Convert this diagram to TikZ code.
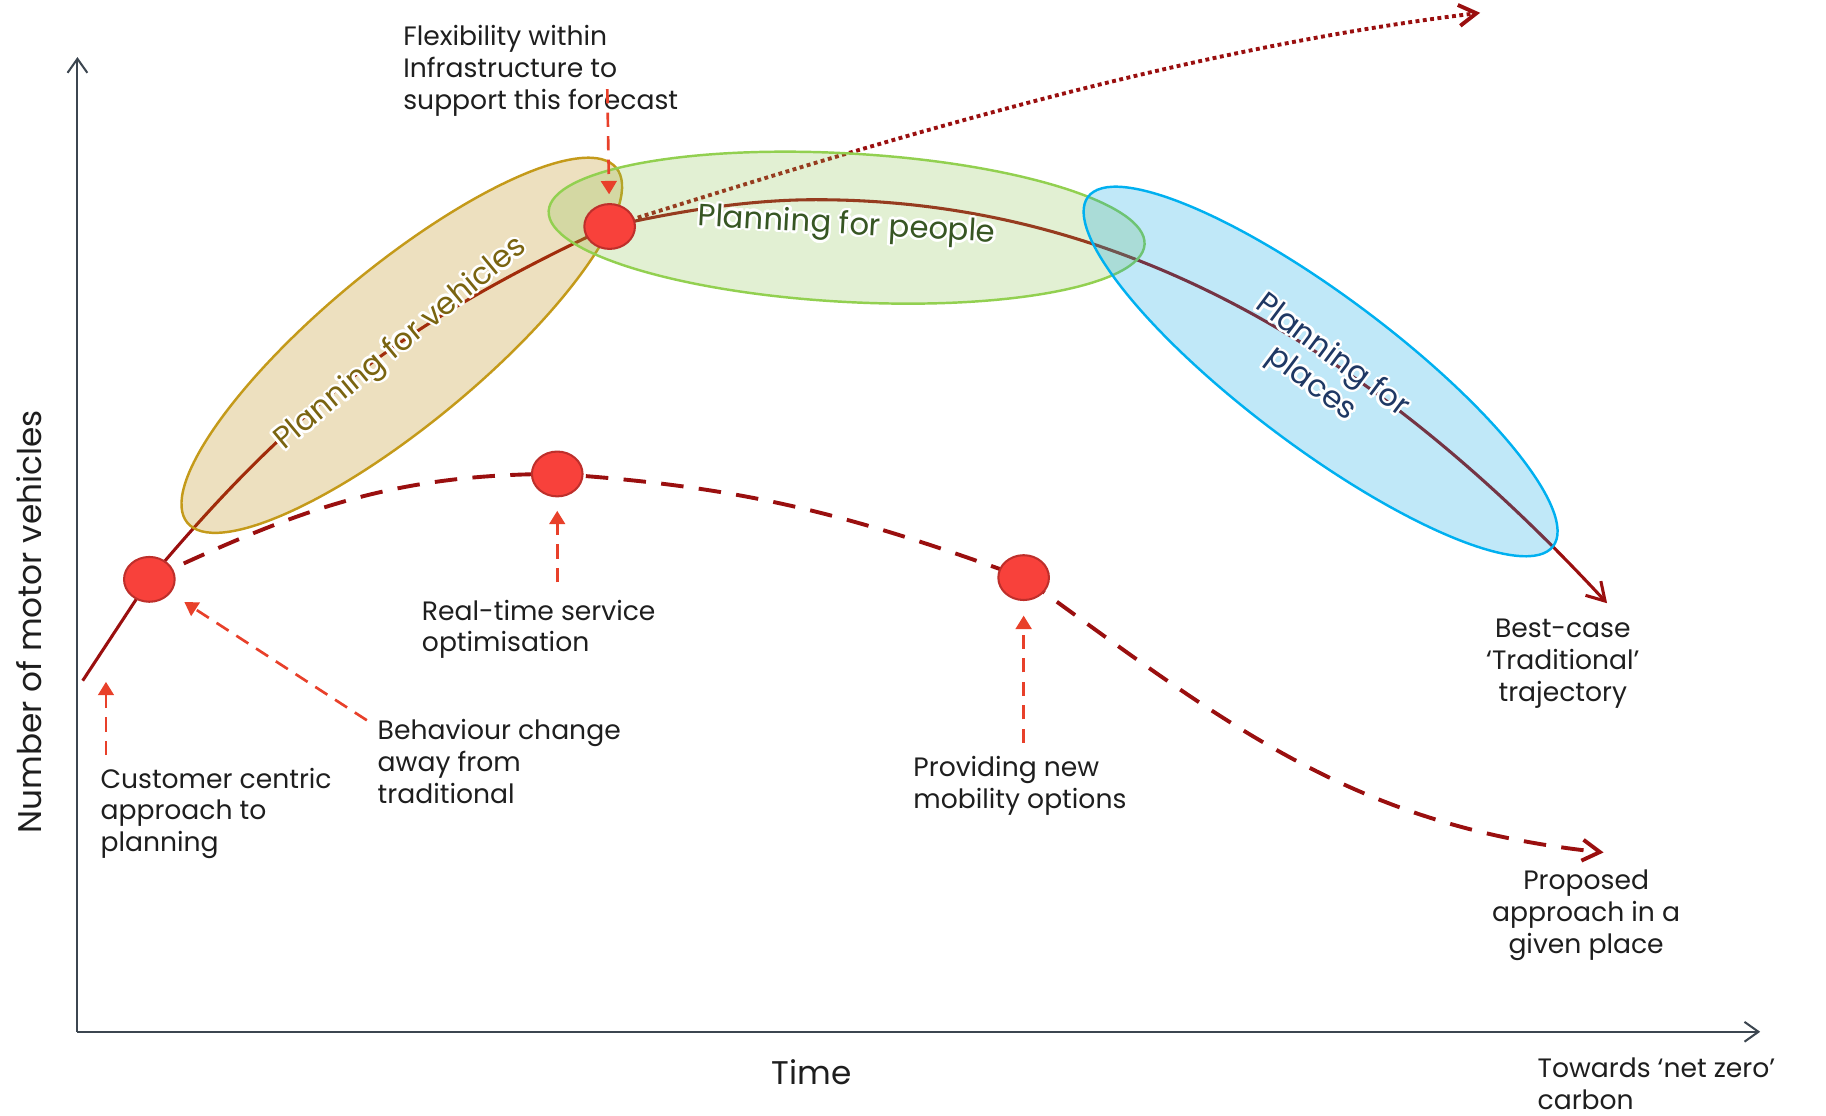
\documentclass[tikz,border=0pt]{standalone}
\usepackage{fontspec}
\setmainfont{Poppins}
\usepackage{contour}
\usetikzlibrary{arrows.meta,shapes.geometric}
\definecolor{cTrend}{HTML}{9A0F0F}
\definecolor{cCall}{HTML}{E8402A}
\definecolor{cDot}{HTML}{F8413B}
\definecolor{cDotRim}{HTML}{BE2F2B}
\definecolor{cAxis}{HTML}{3C4650}
\definecolor{cText}{HTML}{1E1E1E}
\definecolor{cVeh}{HTML}{B78300}
\definecolor{cVehRim}{HTML}{C49A1A}
\definecolor{cVehTxt}{HTML}{7A6410}
\definecolor{cPpl}{HTML}{8BC34F}
\definecolor{cPplRim}{HTML}{92D050}
\definecolor{cPplTxt}{HTML}{375623}
\definecolor{cPlc}{HTML}{03A3E3}
\definecolor{cPlcRim}{HTML}{00B0F0}
\definecolor{cPlcTxt}{HTML}{1F3864}
\contourlength{1.2pt}
\newcommand{\glow}[1]{\contour{white}{#1}}

\begin{document}
\begin{tikzpicture}[
  font=\fontsize{13}{15.5}\selectfont,
  axis/.style={draw=cAxis,line width=1pt,-{Straight Barb[length=2.4mm,width=3.4mm]}},
  trend/.style={cTrend,line width=1.5pt,-{Straight Barb[length=3mm,width=3.6mm]}},
  plan/.style={trend,line width=1.9pt,dash pattern=on 11pt off 7.5pt},
  hope/.style={trend,line width=1.9pt,dash pattern=on 1.9pt off 1.7pt},
  call/.style={cCall,line width=1.3pt,dash pattern=on 7pt off 4.5pt,
               -{Triangle[length=2.3mm,width=2.7mm]}},
  dot/.style={ellipse,draw=cDotRim,fill=cDot,line width=1pt,
              minimum width=8.7mm,minimum height=7.7mm,inner sep=0pt},
  zone/.style={ellipse,line width=1.2pt,fill opacity=0.25,text opacity=1,inner sep=0pt,
               font=\fontsize{15}{17}\selectfont,align=center},
  note/.style={align=left,anchor=west,inner sep=0pt,text=cText},
  axlabel/.style={font=\fontsize{16}{19}\selectfont,text=cText}
]
\useasboundingbox (0,0) rectangle (31.36,19.16);

% axes
\coordinate (o) at (1.33,1.44);
\coordinate (ytop) at (1.33,18.18);
\coordinate (xend) at (30.23,1.44);
\draw[axis] (o) -- (ytop);
\draw[axis] (o) -- (xend);
\node[axlabel] (time) at (13.94,0.74) {Time};
\node[axlabel,rotate=90] (count) at (0.5,8.48) {Number of motor vehicles};

% points on the trajectories
\coordinate (s0) at (1.42,7.47);
\coordinate (p1) at (2.565,9.21);
\coordinate (p2) at (10.47,15.27);
\coordinate (p3) at (9.57,11.02);
\coordinate (p4) at (17.58,9.24);
\coordinate (top) at (14.01,15.73);

% traditional, forecast and proposed curves
\draw[trend] (s0) -- (p1) .. controls (5.07,12.2) and (6.94,13.62) .. (p2)
  .. controls (11.6,15.52) and (12.8,15.73) .. (top)
  .. controls (19.5,15.73) and (23.8,12.9) .. (27.6,8.8);
\draw[hope] (p2) .. controls (15.47,16.85) and (20.42,18.33) .. (25.42,18.94);
\draw[plan] (p1) .. controls (5.13,10.41) and (6.74,11.02) .. (p3)
  .. controls (12.77,10.8) and (14.56,10.34) .. (p4)
  .. controls (21.07,6.71) and (23.25,4.97) .. (27.54,4.52);

% planning zones
\node[zone,draw=cVehRim,fill=cVeh,text=cVehTxt,minimum width=9.56cm,minimum height=2.71cm,
      rotate=39.6] (veh) at (6.9,13.23) {\glow{Planning for vehicles}};
\node[zone,draw=cPplRim,fill=cPpl,text=cPplTxt,minimum width=10.25cm,minimum height=2.55cm,
      rotate=-3.2] (ppl) at (14.54,15.25) {\glow{Planning for people}};
\node[zone,draw=cPlcRim,fill=cPlc,text=cPlcTxt,minimum width=9.99cm,minimum height=2.59cm,
      rotate=-36.9] (plc) at (22.68,12.78) {\glow{Planning for}\\\glow{places}};

% milestones
\node[dot] (d1) at (p1) {};
\node[dot] (d2) at (p2) {};
\node[dot] (d3) at (p3) {};
\node[dot] (d4) at (p4) {};

% notes
\node[note] (flex) at (6.92,17.94) {Flexibility within\\Infrastructure to\\support this forecast};
\node[note] (rts) at (7.24,8.35) {Real-time service\\optimisation};
\node[note] (cust) at (1.72,5.19) {Customer centric\\approach to\\planning};
\node[note] (beh) at (6.48,6.08) {Behaviour change\\away from\\traditional};
\node[note] (mob) at (15.68,5.67) {Providing new\\mobility options};
\node[align=center,text=cText] (best) at (26.84,7.76) {Best-case\\‘Traditional’\\trajectory};
\node[align=center,text=cText] (prop) at (27.24,3.44) {Proposed\\approach in a\\given place};
\node[note] (netzero) at (26.4,0.55) {Towards ‘net zero’\\carbon};

% callouts
\coordinate (fx) at (10.43,17.63);
\coordinate (rx) at (9.57,9.16);
\coordinate (cx) at (1.82,6.19);
\coordinate (ct) at (1.82,7.45);
\coordinate (bx) at (6.3,6.79);
\coordinate (mx) at (17.58,6.4);
\draw[call,shorten >=1.5mm] (fx) -- (d2);
\draw[call,shorten >=2.3mm] (rx) -- (d3);
\draw[call] (cx) -- (ct);
\draw[call,shorten >=2.8mm] (bx) -- (d1);
\draw[call,shorten >=2.5mm] (mx) -- (d4);
\end{tikzpicture}
\end{document}
